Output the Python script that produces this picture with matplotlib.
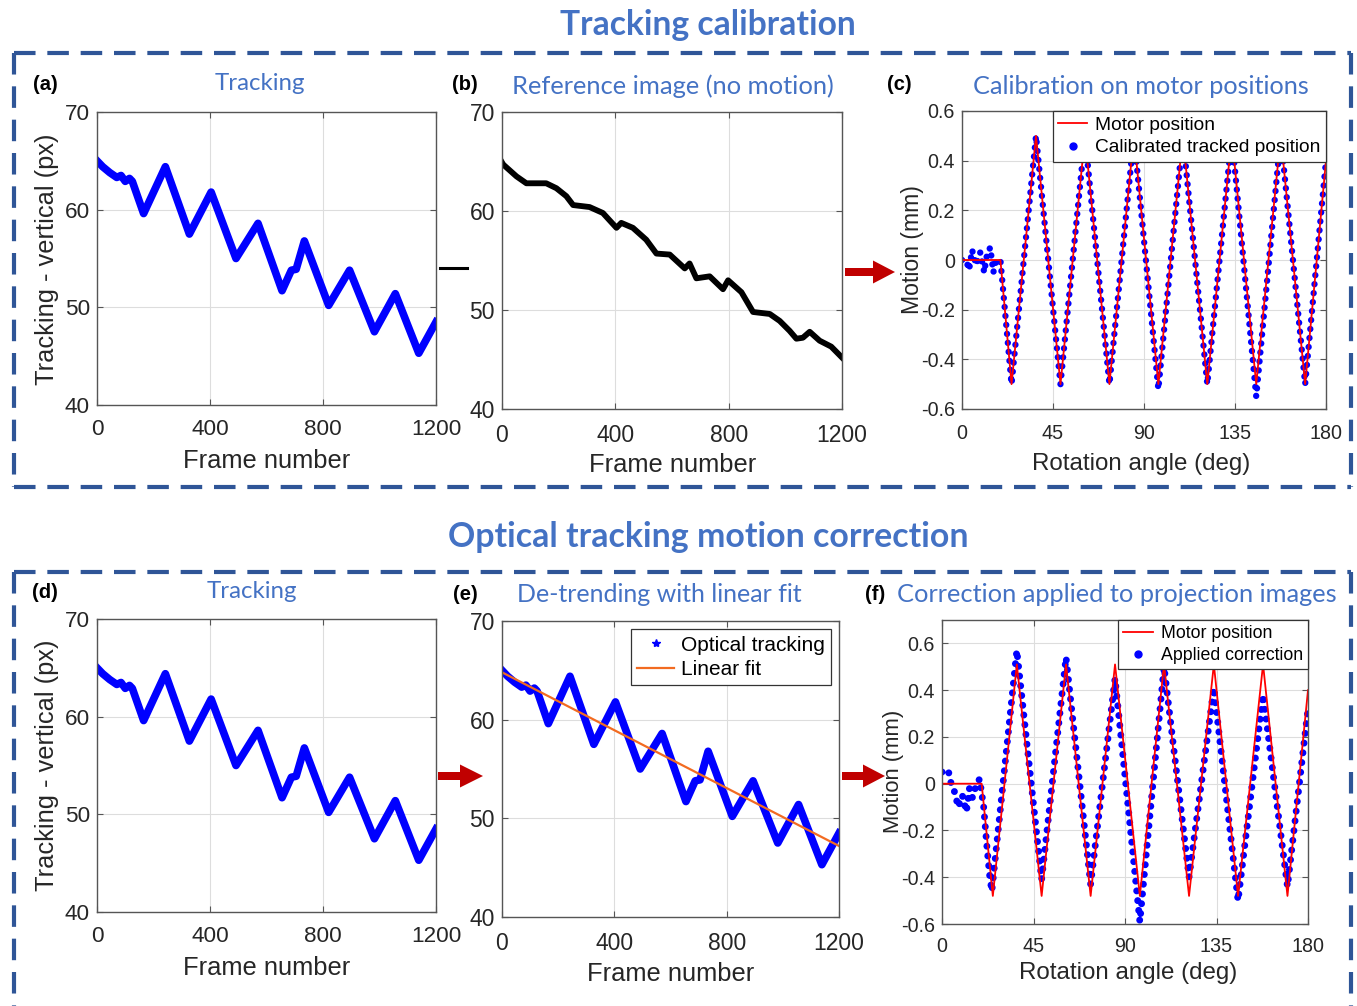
import matplotlib
matplotlib.use("Agg")
import matplotlib.pyplot as plt
from matplotlib.lines import Line2D
from matplotlib.patches import Polygon

# ---------------- data ----------------
track_frame = [0, 20, 45, 70, 85, 100, 115, 125, 165, 242, 327, 404, 492, 570,
               655, 688, 705, 734, 820, 894, 982, 1056, 1139, 1200]
track_px = [65.0, 64.4, 63.8, 63.3, 63.5, 62.9, 63.2, 62.9, 59.6, 64.4, 57.5, 61.8,
            55.0, 58.6, 51.7, 53.8, 53.9, 56.8, 50.2, 53.8, 47.5, 51.4, 45.3, 48.5]

ref_frame = [0, 4, 51, 86, 156, 192, 227, 251, 309, 356, 404, 421, 462, 509, 545,
             592, 645, 662, 686, 733, 780, 798, 845, 886, 945, 980, 1015, 1039,
             1062, 1086, 1121, 1162, 1200]
ref_px = [64.9, 64.7, 63.5, 62.8, 62.8, 62.3, 61.5, 60.6, 60.4, 59.8, 58.3, 58.8,
          58.3, 57.1, 55.7, 55.6, 54.2, 54.7, 53.2, 53.4, 52.1, 53.0, 51.8, 49.8,
          49.6, 48.9, 47.9, 47.1, 47.2, 47.8, 46.9, 46.3, 45.2]

fit_frame = [0, 1200]
fit_px = [64.8, 47.2]

motor_c_deg = [0, 19, 24.5, 36.6, 48.7, 60.8, 72.9, 85.0, 97.1, 109.2, 121.3,
               133.4, 145.5, 157.6, 169.7, 180]
motor_c_mm = [0, 0, -0.5, 0.5, -0.5, 0.5, -0.5, 0.5, -0.5, 0.5, -0.5, 0.5, -0.5,
              0.5, -0.5, 0.4]

calib_deg = [0, 2, 3.5, 5, 7, 9, 11, 12.5, 14, 15.5, 17, 19, 24.5, 36.6, 48.7,
             60.8, 72.9, 85.0, 97.1, 109.2, 121.3, 133.4, 145.5, 157.6, 169.7, 180]
calib_mm = [0.0, 0.0, -0.04, 0.04, -0.02, 0.03, -0.05, 0.03, 0.05, -0.05, 0.0, 0.0,
            -0.5, 0.5, -0.5, 0.5, -0.5, 0.5, -0.52, 0.5, -0.5, 0.5, -0.55, 0.5,
            -0.5, 0.4]

motor_f_deg = [0, 19.5, 25.0, 36.8, 49.0, 61.0, 73.1, 85.1, 97.3, 109.2, 121.5,
               133.7, 145.6, 157.9, 169.9, 180]
motor_f_mm = [0, 0, -0.48, 0.51, -0.48, 0.51, -0.48, 0.51, -0.48, 0.51, -0.48,
              0.51, -0.48, 0.51, -0.48, 0.4]

corr_deg = [0, 3, 4.5, 6, 8, 10, 12, 13.5, 15, 17, 18.5, 20.5, 22, 23.4, 24.5,
            36.8, 49.0, 61.0, 73.1, 85.1, 97.3, 109.2, 121.5, 133.7, 145.6,
            157.9, 169.9, 180]
corr_mm = [0.05, 0.06, 0.0, -0.03, -0.1, -0.05, -0.12, -0.02, -0.06, 0.0, 0.02,
           -0.1, -0.26, -0.39, -0.46, 0.57, -0.41, 0.54, -0.43, 0.45, -0.59, 0.5,
           -0.4, 0.41, -0.5, 0.38, -0.44, 0.32]

frame_ticks = [0, 400, 800, 1200]
px_ticks = [40, 50, 60, 70]
deg_ticks = [0, 45, 90, 135, 180]
mm_ticks = [-0.6, -0.4, -0.2, 0, 0.2, 0.4, 0.6]
mm_labels = ["-0.6", "-0.4", "-0.2", "0", "0.2", "0.4", "0.6"]

# ---------------- style ----------------
W, H = 1357, 1006
plt.rcParams['font.family'] = ['Liberation Sans', 'DejaVu Sans']
plt.rcParams['axes.unicode_minus'] = False
TXT = '#262626'
BLUE_T = '#4472C4'
BOX = '#2F5597'
RED_A = '#C00000'
TFONT = ['Lato', 'DejaVu Sans']

fig = plt.figure(figsize=(W / 100, H / 100), dpi=100)


def add_ax(l, r, t, b):
    return fig.add_axes([l / W, 1 - b / H, (r - l) / W, (b - t) / H])


def style_ax(ax, fs, xpad):
    ax.grid(True, color='#dddddd', lw=0.8)
    ax.set_axisbelow(True)
    for s in ax.spines.values():
        s.set_color('#555555')
        s.set_linewidth(1.0)
    ax.tick_params(direction='in', length=4, width=0.8, color='#555555',
                   labelsize=fs, labelcolor=TXT, top=True, right=True,
                   labeltop=False, labelright=False)
    ax.tick_params(axis='x', pad=xpad)
    ax.tick_params(axis='y', pad=5)


def ftext(x, y, s, **kw):
    return fig.text(x / W, 1 - y / H, s, **kw)


def frame_axes(ax, fs, xpad):
    ax.set_xlim(0, 1200)
    ax.set_ylim(40, 70)
    ax.set_xticks(frame_ticks)
    ax.set_yticks(px_ticks)
    style_ax(ax, fs, xpad)


def deg_axes(ax, top, fs, xpad):
    ax.set_xlim(0, 180)
    ax.set_ylim(-0.6, top)
    ax.set_xticks(deg_ticks)
    ax.set_yticks(mm_ticks)
    ax.set_yticklabels(mm_labels)
    style_ax(ax, fs, xpad)


dot_style = dict(color='#0000FF', linestyle=(0, (0.01, 1.4)),
                 dash_capstyle='round', solid_capstyle='round')

# (a)
ax_a = add_ax(97, 436, 112, 405)
ax_a.plot(track_frame, track_px, color='#0000FF', lw=5.5, solid_joinstyle='round')
frame_axes(ax_a, 16.2, 10)

# (b)
ax_b = add_ax(502, 842, 112, 409)
ax_b.plot(ref_frame, ref_px, color='black', lw=4.2, solid_joinstyle='round')
frame_axes(ax_b, 16.5, 10.5)

# (c)
ax_c = add_ax(962, 1326, 111, 409)
ax_c.plot(calib_deg, calib_mm, lw=4.6, **dot_style)
ax_c.plot(motor_c_deg, motor_c_mm, color='#FF0000', lw=1.3)
deg_axes(ax_c, 0.6, 14.2, 11)
hc = [Line2D([], [], color='#FF0000', lw=1.3),
      Line2D([], [], color='#0000FF', marker='o', ms=5, ls='none')]
leg = ax_c.legend(hc, ['Motor position', 'Calibrated tracked position'],
                  loc='upper right', fontsize=13.8, frameon=True, fancybox=False,
                  borderaxespad=0, handlelength=1.5, handletextpad=0.4,
                  labelspacing=0.25, borderpad=0.3, edgecolor='#333333',
                  framealpha=1)
leg.get_frame().set_linewidth(0.9)

# (d)
ax_d = add_ax(97, 436, 619, 912)
ax_d.plot(track_frame, track_px, color='#0000FF', lw=5.5, solid_joinstyle='round')
frame_axes(ax_d, 16.2, 10)

# (e)
ax_e = add_ax(502, 839, 621, 917)
ax_e.plot(track_frame, track_px, color='#0000FF', lw=5.5, solid_joinstyle='round')
ax_e.plot(fit_frame, fit_px, color='#F26B21', lw=1.6)
frame_axes(ax_e, 16.5, 10.5)
he = [Line2D([], [], color='#0000FF', marker='*', ms=6, ls='none'),
      Line2D([], [], color='#F26B21', lw=1.6)]
leg = ax_e.legend(he, ['Optical tracking', 'Linear fit'], loc='upper right',
                  fontsize=15, frameon=True, fancybox=False, borderaxespad=0.4,
                  handlelength=1.8, handletextpad=0.3, labelspacing=0.25,
                  borderpad=0.3, edgecolor='#333333', framealpha=1)
leg.get_frame().set_linewidth(0.9)

# (f)
ax_f = add_ax(942, 1308, 620, 924)
ax_f.plot(corr_deg, corr_mm, lw=5.0, **dot_style)
ax_f.plot(motor_f_deg, motor_f_mm, color='#FF0000', lw=1.3)
deg_axes(ax_f, 0.7, 14.2, 9)
hf = [Line2D([], [], color='#FF0000', lw=1.3),
      Line2D([], [], color='#0000FF', marker='o', ms=5, ls='none')]
leg = ax_f.legend(hf, ['Motor position', 'Applied correction'], loc='upper right',
                  fontsize=12.8, frameon=True, fancybox=False, borderaxespad=0,
                  handlelength=1.7, handletextpad=0.4, labelspacing=0.25,
                  borderpad=0.3, edgecolor='#333333', framealpha=1)
leg.get_frame().set_linewidth(0.9)

# ---------------- axis labels ----------------
for (x, y, s, fs) in [(267, 461, 'Frame number', 18.4), (673, 465, 'Frame number', 18.4),
                      (1141, 464, 'Rotation angle (deg)', 17.4),
                      (267, 968, 'Frame number', 18.4), (671, 974, 'Frame number', 18.4),
                      (1128, 973, 'Rotation angle (deg)', 17.4)]:
    ftext(x, y, s, fontsize=fs, color=TXT, ha='center', va='center')
for (x, y, s, fs) in [(47, 259, 'Tracking - vertical (px)', 18.3),
                      (912, 250, 'Motion (mm)', 16.6),
                      (47, 765, 'Tracking - vertical (px)', 18.3),
                      (893, 771, 'Motion (mm)', 15.8)]:
    ftext(x, y, s, fontsize=fs, color=TXT, ha='center', va='center', rotation=90)

# ---------------- panel labels and titles ----------------
for (x, y, s) in [(45, 85, '(a)'), (465, 84, '(b)'), (899, 84, '(c)'),
                  (45, 593, '(d)'), (465, 594, '(e)'), (875, 595, '(f)')]:
    ftext(x, y, s, fontsize=14.5, fontweight='bold', color='black', ha='center',
          va='center')

fig.canvas.draw()
renderer = fig.canvas.get_renderer()


def fitted(x, y, s, width, fs0, **kw):
    t = ftext(x, y, s, fontsize=fs0, family=TFONT, ha='center', va='center', **kw)
    w = t.get_window_extent(renderer).width
    t.set_fontsize(fs0 * width / w)
    return t


fitted(260, 84, 'Tracking', 91, 16, color=BLUE_T)
fitted(673, 86, 'Reference image (no motion)', 323, 16, color=BLUE_T)
fitted(1141, 86, 'Calibration on motor positions', 338, 16, color=BLUE_T)
fitted(252, 592, 'Tracking', 91, 16, color=BLUE_T)
fitted(659, 595, 'De-trending with linear fit', 288, 16, color=BLUE_T)
fitted(1117, 595, 'Correction applied to projection images', 441, 16, color=BLUE_T)
fitted(708, 25, 'Tracking calibration', 295, 20, color=BLUE_T, fontweight='bold')
fitted(708, 537, 'Optical tracking motion correction', 519, 20, color=BLUE_T,
       fontweight='bold')

# ---------------- dashed boxes ----------------
lw_box = 3.0
dash = (0, (15.5 / lw_box, 8.5 / lw_box))


def dline(xs, ys):
    fig.add_artist(Line2D([x / W for x in xs], [1 - y / H for y in ys],
                          transform=fig.transFigure, color=BOX, lw=lw_box,
                          linestyle=dash, dash_capstyle='butt'))


for (l, r, t, b) in [(14, 1351, 53, 487), (14, 1351, 572, 1030)]:
    dline([l, r], [t, t])
    dline([l, r], [b, b])
    dline([l, l], [t, b])
    dline([r, r], [t, b])

# ---------------- arrows ----------------


def arrow(x0, xh, x1, y, sh, hh, color):
    pts = [(x0, y - sh / 2), (xh, y - sh / 2), (xh, y - hh / 2), (x1, y),
           (xh, y + hh / 2), (xh, y + sh / 2), (x0, y + sh / 2)]
    fig.add_artist(Polygon([(px / W, 1 - py / H) for px, py in pts], closed=True,
                           transform=fig.transFigure, facecolor=color,
                           edgecolor='none'))


arrow(845, 873, 895, 272, 8, 23, RED_A)
arrow(438, 460, 483, 776, 8, 23, RED_A)
arrow(842, 863, 885, 776, 8, 23, RED_A)
fig.add_artist(Line2D([440 / W, 467 / W], [1 - 268 / H, 1 - 268 / H],
                      transform=fig.transFigure, color='black', lw=2.2))

fig.savefig('out.png', dpi=100, facecolor='white')
